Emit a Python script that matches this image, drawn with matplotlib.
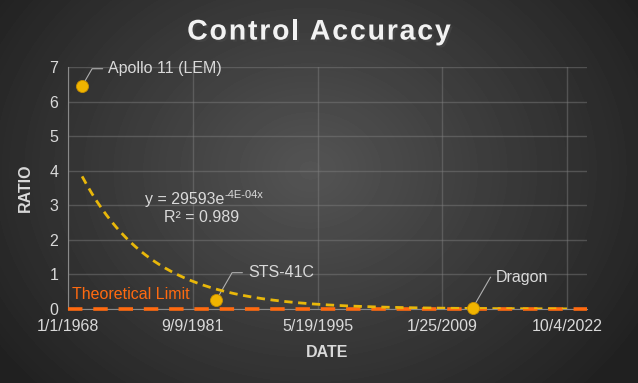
import matplotlib
matplotlib.use("Agg")
import matplotlib.pyplot as plt
import matplotlib.patheffects as pe
import numpy as np

plt.rcParams["font.family"] = ["Liberation Sans", "DejaVu Sans"]

# Excel date serials (days since 1900)
missions = ["Apollo 11 (LEM)", "STS-41C", "Dragon"]
dates = [25404, 30781, 41051]
ratios = [6.45, 0.26, 0.02]

tick_vals = [24838, 29838, 34838, 39838, 44838]
tick_labels = ["1/1/1968", "9/9/1981", "5/19/1995", "1/25/2009", "10/4/2022"]

limit_value = 0.0
trend_end = 44838

text_col = "#d9d9d9"
gold = "#f0b400"
trend_col = "#e8b70a"
orange = "#ff6a10"
fs = 11.5

fig = plt.figure(figsize=(6.38, 3.83), dpi=100)

# radial gradient background
bg = fig.add_axes([0, 0, 1, 1])
yy, xx = np.mgrid[0:383, 0:638]
r = np.sqrt(((xx - 310) / 400.0) ** 2 + ((yy - 170) / 330.0) ** 2)
shade = np.clip(0.33 - 0.21 * r, 0.13, 0.33)
bg.imshow(shade, cmap="gray", vmin=0, vmax=1, aspect="auto", extent=(0, 1, 0, 1))
bg.axis("off")

ax = fig.add_axes([68 / 638, 1 - 309 / 383, (587 - 68) / 638, (309 - 67) / 383])
ax.patch.set_alpha(0)

ax.set_xlim(24838, 45638)
ax.set_ylim(0, 7)
ax.set_xticks(tick_vals)
ax.set_xticklabels(tick_labels)
ax.set_yticks(range(0, 8))
ax.tick_params(colors=text_col, labelsize=fs, length=0, pad=7)
ax.grid(color="#808080", alpha=0.45, linewidth=1)
ax.set_axisbelow(True)
for side in ["top", "right"]:
    ax.spines[side].set_visible(False)
for side in ["left", "bottom"]:
    ax.spines[side].set_color("#8a8a8a")

# theoretical limit
ax.plot([24838, 45638], [limit_value, limit_value], color=orange, lw=2.6,
        dashes=(4, 3), zorder=3, clip_on=False)
ax.text(25000, 0.3, "Theoretical Limit", color=orange, fontsize=fs)

# exponential trendline fitted on log values
k, ln_a = np.polyfit(dates, np.log(ratios), 1)
tx = np.linspace(dates[0], trend_end, 300)
ax.plot(tx, np.exp(ln_a + k * tx), color=trend_col, lw=2, dashes=(3, 2), zorder=4)
eq = ax.text(27918, 3.18, "y = 29593e", color=text_col, fontsize=fs, va="center")
ax.annotate("-4E-04x", xy=(1, 1), xycoords=eq, xytext=(0, 1),
            textcoords="offset points", color=text_col, fontsize=8, va="top")
ax.text(30198, 2.64, "R² = 0.989", color=text_col, fontsize=fs, ha="center",
        va="center")

ax.scatter(dates, ratios, s=75, color=gold, edgecolor="#c89000", lw=0.6, zorder=6,
           clip_on=False)

label_pos = [(26450, 6.95), (32050, 1.05), (42000, 0.92)]
for name, x, y, (lx, ly) in zip(missions, dates, ratios, label_pos):
    ax.annotate(name, xy=(x, y), xytext=(lx, ly), color=text_col, fontsize=fs,
                va="center",
                arrowprops=dict(arrowstyle="-", color="#b0b0b0", lw=0.8,
                                shrinkA=2, shrinkB=0,
                                connectionstyle="angle,angleA=0,angleB=60,rad=0"))

ax.set_ylabel("RATIO", color=text_col, fontsize=fs, fontweight="bold", labelpad=12)
ax.set_xlabel("DATE", color=text_col, fontsize=fs, fontweight="bold", labelpad=8)

# title with letter spacing, drawn char by char
title = "Control Accuracy"
renderer = fig.canvas.get_renderer()
shadow = [pe.withSimplePatchShadow(offset=(1.5, -1.5), alpha=0.6)]
parts = []
for ch in title:
    t = fig.text(0, 0.915, ch, color="#f2f2f2", fontsize=20.5, fontweight="bold",
                 va="center", path_effects=shadow)
    parts.append((t, t.get_window_extent(renderer).width if ch != " " else 7))
spacing = 1.8
total = sum(w for _, w in parts) + spacing * (len(parts) - 1)
x0 = (638 - total) / 2
for t, w in parts:
    t.set_x(x0 / 638)
    x0 += w + spacing

fig.savefig("out.png", dpi=100)
